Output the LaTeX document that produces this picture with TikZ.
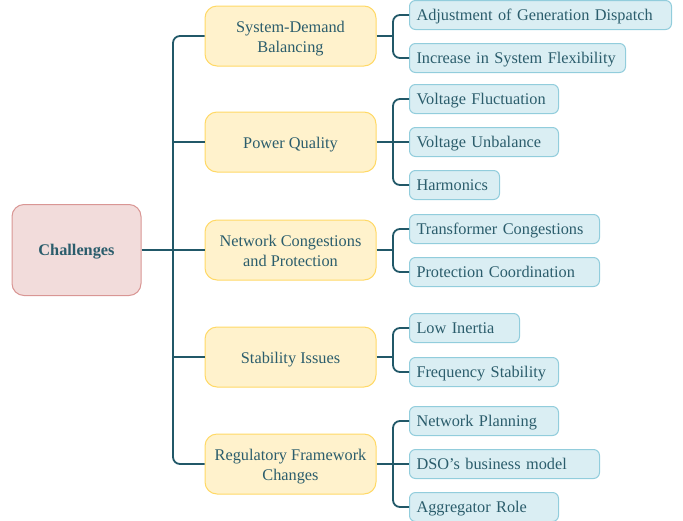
\documentclass[tikz,border=0pt]{standalone}
\usepackage{fontspec}
\setmainfont{Liberation Serif}
\newfontfamily\labelfont{Liberation Serif}
\definecolor{ink}{HTML}{2B5D6C}
\definecolor{wire}{HTML}{215868}
\definecolor{rootfill}{HTML}{F2DCDB}
\definecolor{rootline}{HTML}{D99694}
\definecolor{midfill}{HTML}{FFF2CC}
\definecolor{midline}{HTML}{FFD966}
\definecolor{leaffill}{HTML}{DAEEF3}
\definecolor{leafline}{HTML}{92CDDC}
% set a label a little lower without changing its extents
\newcommand\lowered[2][2pt]{\raisebox{-#1}[\height][\depth]{\begin{tabular}{@{}c@{}}#2\end{tabular}}}
\tikzset{
  x=1pt, y=-1pt,
  labeltext/.style={font=\labelfont\fontsize{16.3}{20}\selectfont, text=ink},
  rootbox/.style={labeltext, draw=rootline, fill=rootfill, line width=1pt, rounded corners=12pt,
    minimum width=129pt, minimum height=91pt, font=\labelfont\fontsize{16.3}{20}\selectfont\bfseries},
  midbox/.style={labeltext, draw=midline, fill=midfill, line width=1pt, rounded corners=12pt,
    minimum width=171pt, minimum height=60pt},
  leafbox/.style={labeltext, draw=leafline, fill=leaffill, line width=1pt, rounded corners=6pt,
    anchor=west, minimum height=29pt, inner xsep=7pt, inner ysep=0pt, align=left,
    text width=#1-14pt},
  conn/.style={draw=wire, line width=1.8pt, rounded corners=7pt},
}
\begin{document}
\begin{tikzpicture}
\useasboundingbox (0,0) rectangle (683,520);

% root
\node[rootbox] (root) at (76.5,250) {\lowered[1.5pt]{Challenges}};

% second level
\node[midbox] (sdb) at (290.5,36) {\lowered{System-Demand\\Balancing}};
\node[midbox] (pq)  at (290.5,142) {\lowered{Power Quality}};
\node[midbox] (ncp) at (290.5,250) {\lowered{Network Congestions\\and Protection}};
\node[midbox] (si)  at (290.5,357) {\lowered{Stability Issues}};
\node[midbox] (rfc) at (290.5,464) {\lowered{Regulatory Framework\\Changes}};

% leaves
\node[leafbox=262pt] (l1)  at (409,15)  {\lowered[1.5pt]{Adjustment of Generation Dispatch}};
\node[leafbox=216pt] (l2)  at (409,58)  {\lowered[1.5pt]{Increase in System Flexibility}};
\node[leafbox=149pt] (l3)  at (409,99)  {\lowered[1.5pt]{Voltage Fluctuation}};
\node[leafbox=149pt] (l4)  at (409,142) {\lowered[1.5pt]{Voltage Unbalance}};
\node[leafbox=90pt]  (l5)  at (409,185) {\lowered[1.5pt]{Harmonics}};
\node[leafbox=190pt] (l6)  at (409,229) {\lowered[1.5pt]{Transformer Congestions}};
\node[leafbox=190pt] (l7)  at (409,272) {\lowered[1.5pt]{Protection Coordination}};
\node[leafbox=110pt] (l8)  at (409,328) {\lowered[1.5pt]{Low Inertia}};
\node[leafbox=149pt] (l9)  at (409,372) {\lowered[1.5pt]{Frequency Stability}};
\node[leafbox=149pt] (l10) at (409,421) {\lowered[1.5pt]{Network Planning}};
\node[leafbox=190pt] (l11) at (409,464) {\lowered[1.5pt]{DSO’s business model}};
\node[leafbox=149pt] (l12) at (409,507) {\lowered[1.5pt]{Aggregator Role}};

% trunk from the root to the second level
\coordinate (tk) at (173,0);
\draw[conn] (sdb.west) -- (sdb.west -| tk) -- (rfc.west -| tk) -- (rfc.west);
\draw[conn] (root.east) -- (ncp.west);
\draw[conn] (pq.west -| tk) -- (pq.west);
\draw[conn] (si.west -| tk) -- (si.west);

% branches from the second level to the leaves
\coordinate (bk) at (393,0);
\draw[conn] (l1.west) -- (l1.west -| bk) -- (l2.west -| bk) -- (l2.west);
\draw[conn] (sdb.east) -- (sdb.east -| bk);
\draw[conn] (l3.west) -- (l3.west -| bk) -- (l5.west -| bk) -- (l5.west);
\draw[conn] (pq.east) -- (l4.west);
\draw[conn] (l6.west) -- (l6.west -| bk) -- (l7.west -| bk) -- (l7.west);
\draw[conn] (ncp.east) -- (ncp.east -| bk);
\draw[conn] (l8.west) -- (l8.west -| bk) -- (l9.west -| bk) -- (l9.west);
\draw[conn] (si.east) -- (si.east -| bk);
\draw[conn] (l10.west) -- (l10.west -| bk) -- (l12.west -| bk) -- (l12.west);
\draw[conn] (rfc.east) -- (l11.west);
\end{tikzpicture}
\end{document}
